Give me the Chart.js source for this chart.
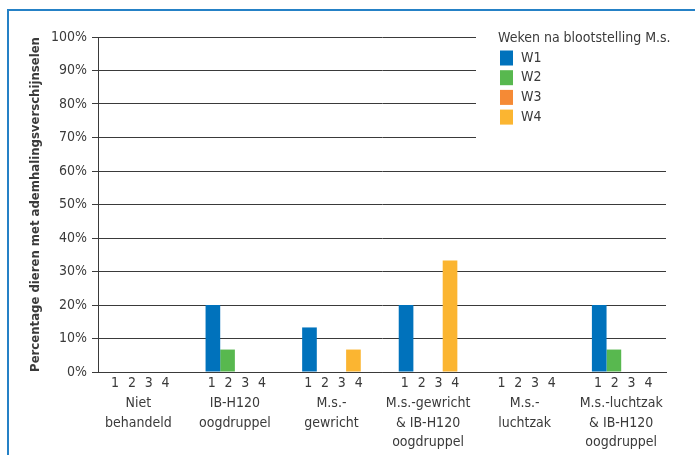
<!DOCTYPE html>
<html><head><meta charset="utf-8">
<script src="https://cdn.jsdelivr.net/npm/chart.js@4"></script>
<style>
html,body{margin:0;padding:0;overflow:hidden;background:#fff}
canvas{display:block}
</style></head><body>
<canvas id="c" width="695" height="455"></canvas>
<script>
const categories = [["Niet","behandeld"],["IB-H120","oogdruppel"],["M.s.-","gewricht"],["M.s.-gewricht","& IB-H120","oogdruppel"],["M.s.-","luchtzak"],["M.s.-luchtzak","& IB-H120","oogdruppel"]];
const weekLabels = ["W1","W2","W3","W4"];
const weekNumbers = ["1","2","3","4"];
const w1 = [0, 20, 13.3, 20, 0, 20];
const w2 = [0, 6.7, 0, 0, 0, 6.7];
const w3 = [0, 0, 0, 0, 0, 0];
const w4 = [0, 0, 6.7, 33.3, 0, 0];
const yMin = 0, yMax = 100, yStep = 10;
const legendTitle = "Weken na blootstelling M.s.";
const yTitle = "Percentage dieren met ademhalingsverschijnselen";
const colors = ["#0072bc", "#58b84f", "#f58a35", "#fbb531"];

const FONT = '"DejaVu Sans Condensed", "DejaVu Sans", sans-serif';
const TXT = '#3a3a3a';
Chart.defaults.font.family = FONT;
Chart.defaults.color = TXT;

const seriesValues = [w1, w2, w3, w4];

const shiftCats = {
  id: 'shiftCats',
  afterLayout(chart) {
    const x = chart.scales.x;
    x._startPixel = x.left - 8;
    x._endPixel = x.right + 3.5;
    x._length = x._endPixel - x._startPixel;
  }
};

const frame = {
  id: 'frame',
  beforeDraw(chart) {
    const ctx = chart.ctx;
    ctx.save();
    ctx.strokeStyle = '#2581c6';
    ctx.lineWidth = 2;
    ctx.beginPath();
    ctx.moveTo(8, 460);
    ctx.lineTo(8, 10);
    ctx.lineTo(700, 10);
    ctx.stroke();
    ctx.restore();
  }
};

const extras = {
  id: 'extras',
  afterDraw(chart) {
    const ctx = chart.ctx;
    const x = chart.scales.x;
    const y = chart.scales.y;
    ctx.save();
    ctx.font = '14px ' + FONT;
    ctx.fillStyle = TXT;
    ctx.textAlign = 'center';
    ctx.textBaseline = 'middle';
    const base = y.getPixelForValue(0);
    categories.forEach((c, i) => {
      const cx = x.getPixelForValue(i) + 2;
      weekNumbers.forEach((n, j) => {
        ctx.fillText(n, cx + (j - 1.5) * 16.8, base + 11);
      });
    });
    // legend
    ctx.fillStyle = '#fff';
    ctx.fillRect(476, 20, 210, 122);
    ctx.textAlign = 'left';
    ctx.fillStyle = TXT;
    ctx.fillText(legendTitle, 498, 38);
    chart.data.datasets.forEach((ds, i) => {
      const yy = 58 + i * 19.7;
      ctx.fillStyle = ds.backgroundColor;
      ctx.fillRect(500, yy - 7.5, 13, 15);
      ctx.fillStyle = TXT;
      ctx.fillText(ds.label, 521, yy);
    });
    ctx.restore();
  }
};

new Chart(document.getElementById('c'), {
  type: 'bar',
  data: {
    labels: categories,
    datasets: weekLabels.map((l, i) => ({
      label: l, data: seriesValues[i], backgroundColor: colors[i], borderWidth: 0
    }))
  },
  options: {
    responsive: false,
    animation: false,
    layout: { padding: { left: 22, top: 37, right: 29, bottom: 0 } },
    plugins: { legend: { display: false }, tooltip: { enabled: false } },
    datasets: { bar: { categoryPercentage: 0.607, barPercentage: 1.0 } },
    scales: {
      x: {
        grid: { display: false, drawTicks: false },
        border: { color: '#3a3a3a', width: 1 },
        ticks: { padding: 22, font: { size: 14, lineHeight: 1.38 }, color: TXT, maxRotation: 0, autoSkip: false },
        afterFit: s => { s.height = 83; }
      },
      y: {
        min: yMin, max: yMax,
        ticks: { stepSize: yStep, callback: v => v + '%', padding: 5, font: { size: 14 }, color: TXT },
        grid: { color: '#3a3a3a', tickLength: 6, drawTicks: true, lineWidth: 1 },
        border: { color: '#3a3a3a', width: 1 },
        title: { display: true, text: yTitle, font: { size: 13, weight: 'bold' }, color: TXT, padding: { top: 6, bottom: 0 } },
        afterFit: s => { s.width = 76; }
      }
    }
  },
  plugins: [frame, shiftCats, extras]
});
</script>
</body></html>
